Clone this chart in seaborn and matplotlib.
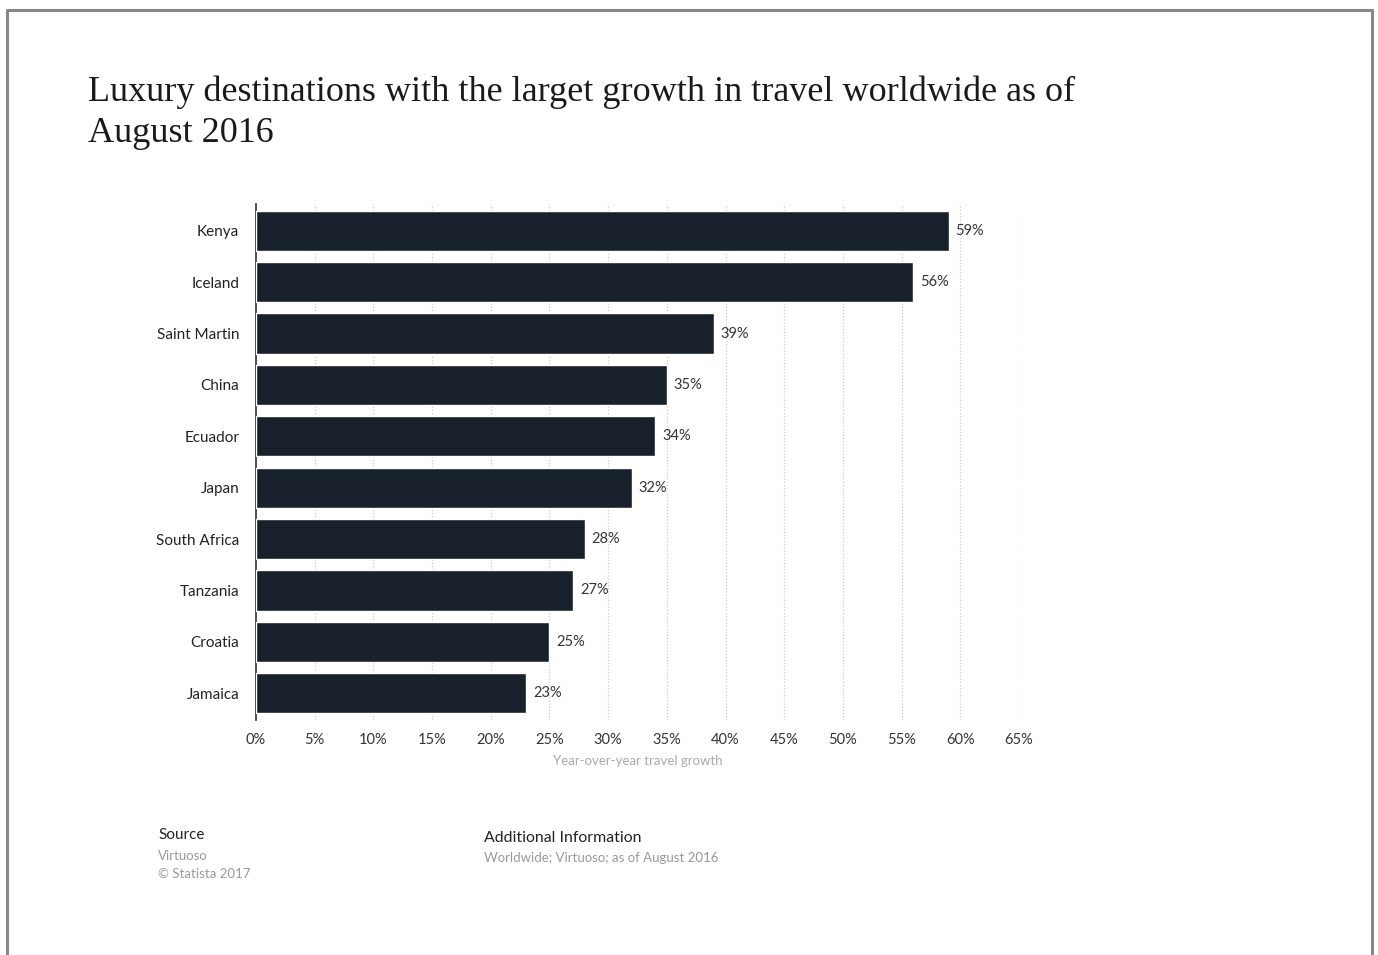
import matplotlib
matplotlib.use("Agg")
import matplotlib.pyplot as plt
from matplotlib.lines import Line2D
import seaborn as sns
import pandas as pd

countries = ["Kenya", "Iceland", "Saint Martin", "China", "Ecuador", "Japan",
             "South Africa", "Tanzania", "Croatia", "Jamaica"]
growth = [59, 56, 39, 35, 34, 32, 28, 27, 25, 23]
x_ticks = list(range(0, 70, 5))
x_tick_labels = [f"{t}%" for t in x_ticks]

df = pd.DataFrame({"country": countries, "growth": growth})

sns.set_theme(style="white")
plt.rcParams["font.family"] = ["Lato", "DejaVu Sans"]

fig = plt.figure(figsize=(13.78, 9.55), dpi=100)
ax = fig.add_axes([256 / 1378, 1 - 720 / 955, 763 / 1378, 516 / 955])

bar_color = "#18212c"
sns.barplot(data=df, x="growth", y="country", orient="h", color=bar_color,
            width=0.78, saturation=1, ax=ax, zorder=3)

ax.set_xlim(0, 65)
ax.set_ylim(len(countries) - 0.5 + 0.02, -0.5 - 0.02)
ax.set_xticks(x_ticks)
ax.set_xticklabels(x_tick_labels, fontsize=10.5, color="#333333")
ax.tick_params(axis="x", length=0, pad=9)
ax.tick_params(axis="y", length=0, pad=12, labelsize=11, labelcolor="#222222")
ax.set_ylabel("")
ax.set_xlabel("Year-over-year travel growth", fontsize=9.5, color="#aaaaaa", labelpad=6)

ax.grid(axis="x", color="#cccccc", linestyle=(0, (1, 1.5)), linewidth=0.9, zorder=0)
ax.grid(axis="y", visible=False)
for side in ["top", "right", "bottom"]:
    ax.spines[side].set_visible(False)
ax.spines["left"].set_color("#333333")
ax.spines["left"].set_linewidth(1.2)

for i, v in enumerate(growth):
    ax.annotate(f"{v}%", xy=(v, i), xytext=(5, 0), textcoords="offset points",
                va="center", ha="left", fontsize=10.5, color="#333333")

fig.text(88 / 1378, 1 - 113 / 955, "Luxury destinations with the larget growth in travel worldwide as of\nAugust 2016",
         family=["Liberation Serif", "DejaVu Serif"], fontsize=26, color="#1a1a1a",
         va="center", ha="left", linespacing=1.34)

fig.text(158 / 1378, 1 - 835 / 955, "Source", fontsize=11, color="#222222", va="center")
fig.text(158 / 1378, 1 - 856 / 955, "Virtuoso", fontsize=9.5, color="#999999", va="center")
fig.text(158 / 1378, 1 - 874 / 955, "\u00a9 Statista 2017", fontsize=9.5, color="#999999", va="center")
fig.text(484 / 1378, 1 - 838 / 955, "Additional Information", fontsize=11.4, color="#222222", va="center")
fig.text(484 / 1378, 1 - 858 / 955, "Worldwide; Virtuoso; as of August 2016", fontsize=9.5,
         color="#999999", va="center")

# page frame
frame_kw = dict(color="#888888", linewidth=2.2, transform=fig.transFigure)
fig.add_artist(Line2D([7 / 1378, 1372 / 1378], [1 - 10 / 955, 1 - 10 / 955], **frame_kw))
fig.add_artist(Line2D([7 / 1378, 7 / 1378], [0, 1 - 10 / 955], **frame_kw))
fig.add_artist(Line2D([1372 / 1378, 1372 / 1378], [0, 1 - 10 / 955], **frame_kw))

fig.savefig("out.png", dpi=100, facecolor="white")
